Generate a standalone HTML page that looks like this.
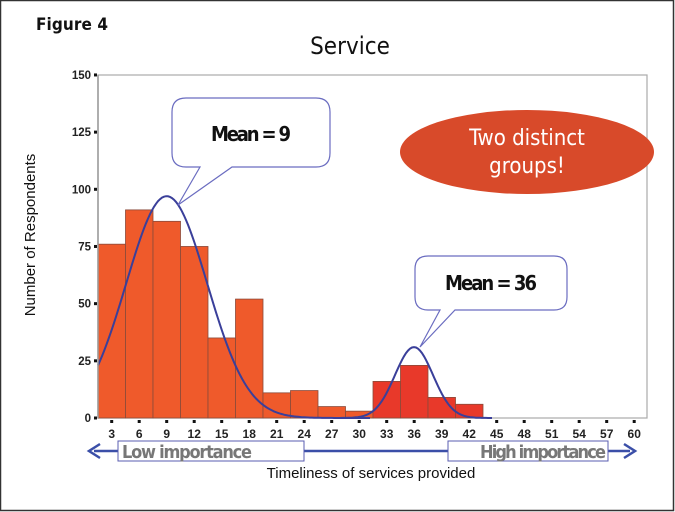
<!DOCTYPE html>
<html><head><meta charset="utf-8"><style>
html,body{margin:0;padding:0;background:#fff}
svg{display:block}
text{font-family:"Liberation Sans",sans-serif}
.n{font-family:"DejaVu Sans Condensed","Liberation Sans",sans-serif}
</style></head><body>
<svg id="s" width="675" height="512" viewBox="0 0 675 512" xmlns="http://www.w3.org/2000/svg">
<rect x="0.5" y="0.5" width="673" height="510" fill="#fff" stroke="#333" stroke-width="1.5"/>
<text x="36" y="30" font-size="17" font-weight="bold" class="n" fill="#111" textLength="72">Figure 4</text>
<text x="350" y="54" font-size="24" text-anchor="middle" class="n" fill="#111">Service</text>
<rect x="98" y="75" width="549" height="343" fill="#fff" stroke="#aaa" stroke-width="1.2"/>
<g id="bars"></g>
<path id="c1" fill="none" stroke="#3a3f9a" stroke-width="2"/>
<path id="c2" fill="none" stroke="#3a3f9a" stroke-width="2"/>
<line x1="98" y1="75" x2="98" y2="418" stroke="#999" stroke-width="1.5"/>
<g id="ax" font-size="12" fill="#222" font-weight="bold"></g>
<text x="35" y="235" font-size="15" text-anchor="middle" transform="rotate(-90 35 235)" fill="#111">Number of Respondents</text>
<path d="M186,98 H316 Q330,98 330,112 V153 Q330,167 316,167 H232 L178,205 L200,167 H186 Q172,167 172,153 V112 Q172,98 186,98 Z" fill="#fff" stroke="#6a6cc0" stroke-width="1.2"/>
<text x="251" y="141" font-size="20" text-anchor="middle" class="n" font-weight="bold" fill="#111" textLength="80">Mean = 9</text>
<path d="M428,256 H554 Q567,256 567,269 V297 Q567,310 554,310 H455 L420,347 L440,310 H428 Q415,310 415,297 V269 Q415,256 428,256 Z" fill="#fff" stroke="#6a6cc0" stroke-width="1.2"/>
<text x="491" y="290" font-size="20" text-anchor="middle" class="n" font-weight="bold" fill="#111" textLength="92">Mean = 36</text>
<ellipse cx="527" cy="152" rx="127" ry="42" fill="#d84a2a"/>
<text x="527" y="145" font-size="22" text-anchor="middle" class="n" fill="#fff">Two distinct</text>
<text x="527" y="173" font-size="22" text-anchor="middle" class="n" fill="#fff">groups!</text>
<line x1="94" y1="451" x2="630" y2="451" stroke="#3b4fa8" stroke-width="2.5"/>
<path d="M100,444 L89,451 L100,458" fill="none" stroke="#3b4fa8" stroke-width="2.5"/>
<path d="M624,444 L635,451 L624,458" fill="none" stroke="#3b4fa8" stroke-width="2.5"/>
<rect x="118" y="441" width="186" height="20" fill="#fff" stroke="#5a5cb0" stroke-width="1"/>
<text x="122" y="458" font-size="18" class="n" fill="#777" font-weight="bold" textLength="130">Low importance</text>
<rect x="448" y="441" width="160" height="20" fill="#fff" stroke="#5a5cb0" stroke-width="1"/>
<text x="480" y="458" font-size="18" class="n" fill="#777" font-weight="bold" textLength="126">High importance</text>
<text x="371" y="478" font-size="15" text-anchor="middle" fill="#111">Timeliness of services provided</text>
</svg>
<script>
var NS="http://www.w3.org/2000/svg";
function el(t,a,p){var e=document.createElementNS(NS,t);for(var k in a)e.setAttribute(k,a[k]);p.appendChild(e);return e;}
var Y=function(v){return 418-v*2.287;};
var h=[76,91,86,75,35,52,11,12,5,3,16,23,9,6];
var g=document.getElementById('bars');
for(var i=0;i<h.length;i++){
 el('rect',{x:98+27.5*i,y:Y(h[i]),width:27.5,height:h[i]*2.287,fill:(i>=10&&i<=13)?'#e8392a':'#ef5a2b',stroke:'#8a4a3a','stroke-width':0.8},g);
}
var ax=document.getElementById('ax');
[0,25,50,75,100,125,150].forEach(function(v){
 var t=el('text',{x:91,y:Y(v)+4,'text-anchor':'end','font-size':11.5},ax);t.textContent=v;
 el('rect',{x:94,y:Y(v)-1.5,width:3,height:3,fill:'#111'},ax);
});
for(var i=0;i<20;i++){
 var x=111.7+27.5*i;
 el('rect',{x:x-1.5,y:420,width:3,height:3,fill:'#111'},ax);
 var t=el('text',{x:x,y:438,'text-anchor':'middle'},ax);t.textContent=3*(i+1);
}
function curve(id,cx,peak,sig,x0,x1){
 var d='';for(var x=x0;x<=x1;x+=2){var v=peak*Math.exp(-Math.pow(x-cx,2)/(2*sig*sig));d+=(d?'L':'M')+x+','+Y(v).toFixed(1);}
 document.getElementById(id).setAttribute('d',d);
}
curve('c1',166.7,97,40.5,98,370);
curve('c2',414,31,19,340,492);
</script>
</body></html>
